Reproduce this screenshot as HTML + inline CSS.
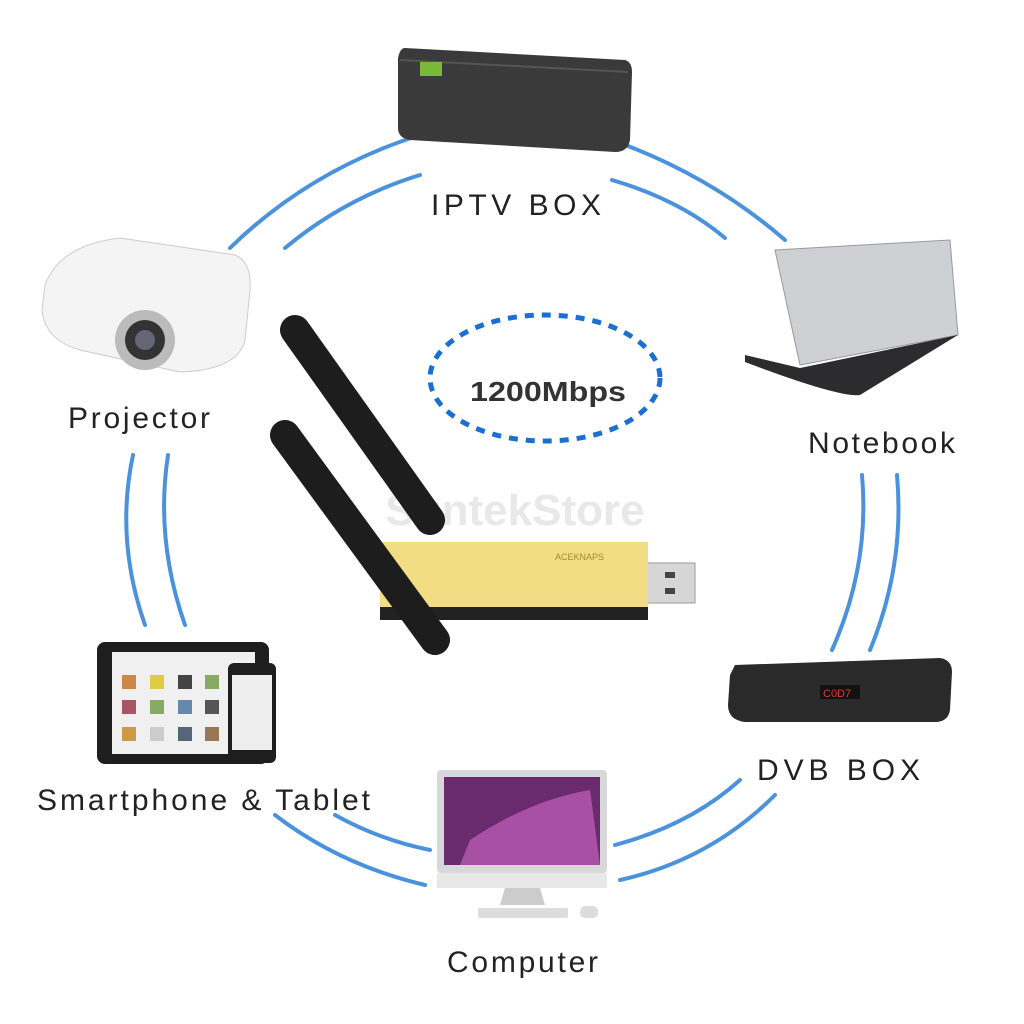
<!DOCTYPE html>
<html><head><meta charset="utf-8"><style>
html,body{margin:0;padding:0;background:#fff;}
svg{display:block}
text{font-family:"Liberation Sans",sans-serif;}
</style></head><body>
<svg width="1024" height="1024" viewBox="0 0 1024 1024" xmlns="http://www.w3.org/2000/svg">
<rect width="1024" height="1024" fill="#fff"/>
<g fill="none" stroke="#4a93dc" stroke-width="4" stroke-linecap="round">
<path d="M230,248 Q310,170 420,135"/>
<path d="M285,248 Q345,198 420,175"/>
<path d="M612,140 Q710,175 785,240"/>
<path d="M612,180 Q680,200 725,238"/>
<path d="M133,455 Q115,540 145,625"/>
<path d="M168,455 Q155,540 185,625"/>
<path d="M862,475 Q870,565 832,650"/>
<path d="M897,475 Q905,565 870,650"/>
<path d="M275,815 Q340,865 425,885"/>
<path d="M335,815 Q380,840 430,850"/>
<path d="M615,845 Q690,825 740,780"/>
<path d="M620,880 Q710,860 775,795"/>
</g>
<ellipse cx="545" cy="378" rx="115" ry="63" fill="none" stroke="#1a6fd0" stroke-width="5" stroke-dasharray="9,8"/>
<text x="470" y="401" textLength="156" lengthAdjust="spacingAndGlyphs" font-size="28" font-weight="bold" fill="#333">1200Mbps</text>
<text x="515" y="525" text-anchor="middle" font-size="44" font-weight="bold" fill="#e8e8e8">SuntekStore</text>
<!-- IPTV box -->
<path d="M405,48 L625,60 Q632,62 632,72 L630,140 Q628,152 615,152 L410,140 Q398,138 398,128 L398,58 Q400,48 405,48Z" fill="#3a3a3a"/>
<path d="M400,60 L628,72" stroke="#555" stroke-width="2"/>
<rect x="420" y="62" width="22" height="14" fill="#7ab83a"/>
<!-- Projector -->
<path d="M45,285 Q60,245 120,238 L235,255 Q252,262 250,290 L245,340 Q238,370 180,372 L80,350 Q45,340 42,310Z" fill="#f4f4f4" stroke="#ccc"/>
<circle cx="145" cy="340" r="30" fill="#bbb"/><circle cx="145" cy="340" r="20" fill="#333"/><circle cx="145" cy="340" r="10" fill="#667"/>
<!-- Notebook -->
<path d="M775,250 L950,240 L958,335 L800,365Z" fill="#cfd0d3" stroke="#999"/>
<path d="M745,355 L800,368 L958,335 L860,395 Q840,398 745,362Z" fill="#2c2c2e"/>
<!-- Tablet -->
<rect x="97" y="642" width="172" height="122" rx="8" fill="#1e1e1e"/>
<rect x="112" y="652" width="143" height="102" fill="#f0f0f0"/>
<rect x="228" y="663" width="48" height="100" rx="6" fill="#1e1e1e"/>
<rect x="232" y="675" width="40" height="75" fill="#eee"/>
<g fill="#8a6">
<rect x="122" y="675" width="14" height="14" fill="#c84"/><rect x="150" y="675" width="14" height="14" fill="#dc4"/><rect x="178" y="675" width="14" height="14" fill="#444"/><rect x="205" y="675" width="14" height="14"/>
<rect x="122" y="700" width="14" height="14" fill="#a56"/><rect x="150" y="700" width="14" height="14"/><rect x="178" y="700" width="14" height="14" fill="#68a"/><rect x="205" y="700" width="14" height="14" fill="#555"/>
<rect x="122" y="727" width="14" height="14" fill="#c94"/><rect x="150" y="727" width="14" height="14" fill="#ccc"/><rect x="178" y="727" width="14" height="14" fill="#567"/><rect x="205" y="727" width="14" height="14" fill="#975"/>
</g>
<!-- DVB box -->
<path d="M735,665 L940,658 Q952,660 952,672 L950,710 Q948,722 935,722 L745,722 Q728,720 728,705 L730,675Z" fill="#2a2a2a"/>
<rect x="820" y="685" width="40" height="14" fill="#111"/><text x="823" y="697" font-size="11" fill="#e33">C0D7</text>
<!-- Computer -->
<rect x="437" y="770" width="170" height="103" rx="4" fill="#d8d8da"/>
<rect x="444" y="777" width="156" height="88" fill="#6a2a6e"/>
<path d="M470,840 Q530,800 590,790 L600,865 L460,865Z" fill="#d06ac8" opacity="0.6"/>
<rect x="437" y="873" width="170" height="15" fill="#e8e8e8"/>
<path d="M505,888 L540,888 L545,905 L500,905Z" fill="#ccc"/>
<rect x="478" y="908" width="90" height="10" rx="2" fill="#ddd"/><rect x="580" y="906" width="18" height="12" rx="5" fill="#ddd"/>
<!-- Antennas -->
<line x1="295" y1="330" x2="430" y2="520" stroke="#1d1d1d" stroke-width="30" stroke-linecap="round"/>
<!-- Dongle -->
<rect x="647" y="563" width="48" height="40" fill="#d6d6d6" stroke="#999"/>
<rect x="665" y="572" width="10" height="6" fill="#444"/><rect x="665" y="588" width="10" height="6" fill="#444"/>
<rect x="380" y="542" width="268" height="70" fill="#f2dd85"/>
<rect x="380" y="607" width="268" height="13" fill="#222"/>
<text x="555" y="560" font-size="9" fill="#a58830">ACEKNAPS</text>
<line x1="285" y1="435" x2="435" y2="640" stroke="#1d1d1d" stroke-width="30" stroke-linecap="round"/>
<!-- Labels -->
<g font-size="30" fill="#222" lengthAdjust="spacingAndGlyphs">
<text x="431" y="215" textLength="170">IPTV  BOX</text>
<text x="68" y="428" textLength="142">Projector</text>
<text x="808" y="453" textLength="147">Notebook</text>
<text x="37" y="810" textLength="333">Smartphone &amp; Tablet</text>
<text x="757" y="780" textLength="163">DVB  BOX</text>
<text x="447" y="972" textLength="151">Computer</text>
</g>
</svg>
</body></html>
